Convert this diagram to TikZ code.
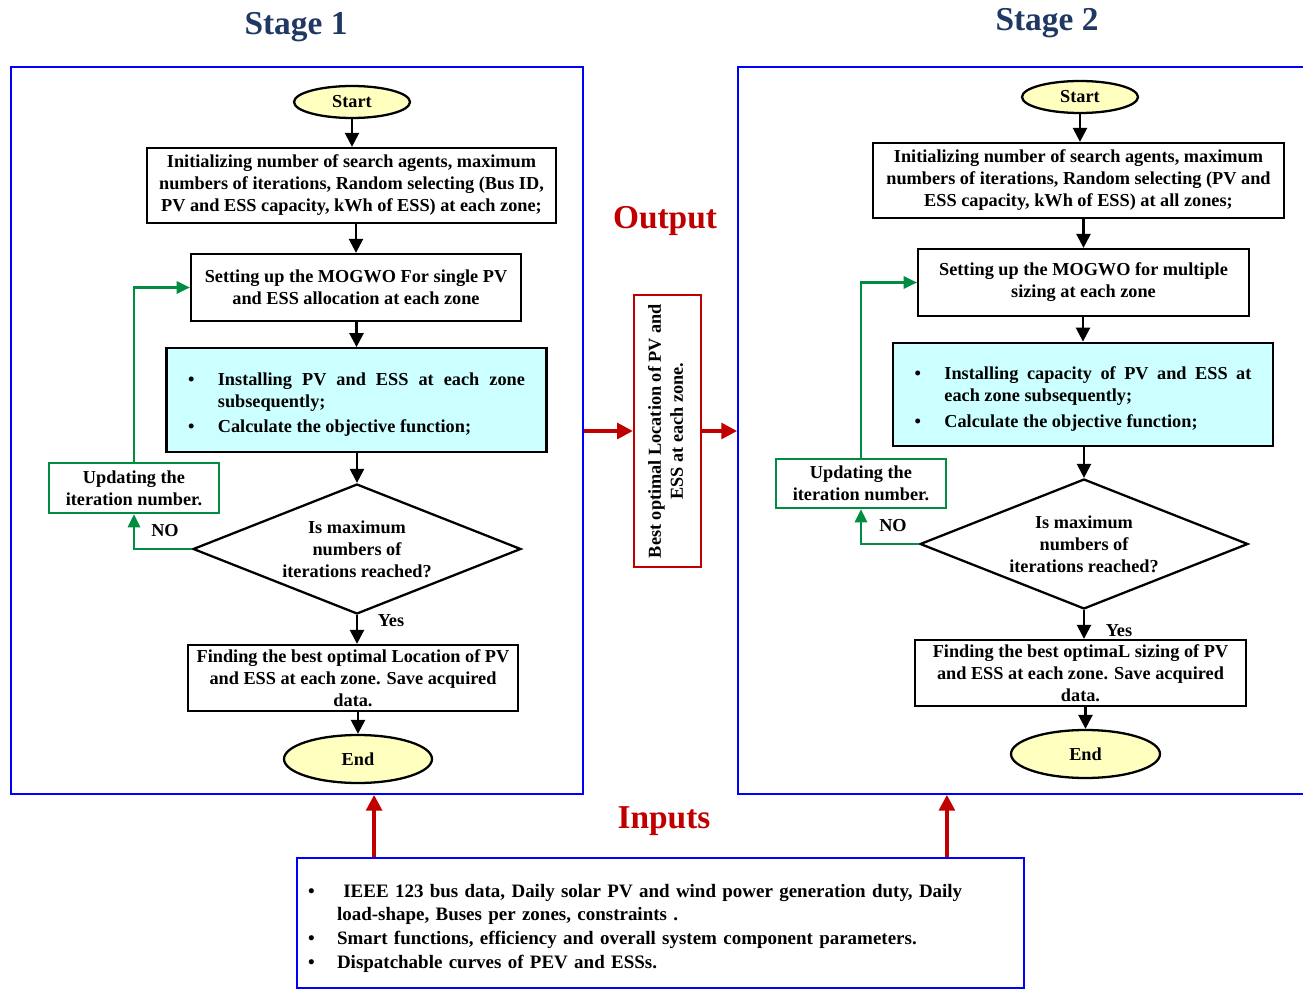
\documentclass[tikz,border=0pt]{standalone}
\usepackage{fontspec}
\setmainfont{Liberation Serif}
\usetikzlibrary{shapes.geometric,arrows.meta}
\definecolor{stageblue}{RGB}{31,56,100}
\definecolor{outred}{RGB}{192,0,0}
\definecolor{loopgreen}{RGB}{0,140,65}
\definecolor{framblue}{RGB}{0,0,255}
\definecolor{boxcyan}{RGB}{204,255,255}
\definecolor{termyellow}{RGB}{255,255,192}
\newcommand{\bitem}[2]{\par\noindent\hangindent=#1\hangafter=1\makebox[#1][l]{\textbullet}#2}
\tikzset{
  flowbox/.style={draw,line width=1.3pt,rectangle,align=center,inner sep=0pt},
  cyanbox/.style={flowbox,fill=boxcyan,minimum width=7.6cm,minimum height=2.07cm,text width=6.74cm,align=justify},
  termnode/.style={draw,line width=1.3pt,ellipse,fill=termyellow,inner sep=0pt},
  decision/.style={draw,line width=1.3pt,diamond,aspect=2.52,inner sep=0pt,align=center,minimum width=6.56cm,minimum height=2.6cm},
  loopbox/.style={draw=loopgreen,line width=1.3pt,rectangle,align=center,inner sep=0pt,minimum width=3.4cm,minimum height=1cm},
  frame/.style={draw=framblue,line width=1.1pt,rectangle,minimum width=11.44cm,minimum height=14.54cm},
  arr/.style={line width=1.4pt,-{Triangle[length=8pt,width=8pt]}},
  redarr/.style={draw=outred,line width=2pt,-{Triangle[length=9pt,width=9pt]}},
  greenarr/.style={draw=loopgreen,line width=1.3pt,-{Triangle[length=7.5pt,width=7pt]}},
  bigtitle/.style={font=\bfseries\fontsize{19}{22}\selectfont}
}
\begin{document}
\begin{tikzpicture}[x=0.02cm,y=-0.02cm,font=\bfseries\fontsize{10.4}{12.5}\selectfont]
\useasboundingbox (0,0) rectangle (1303,990);

\node[bigtitle,text=stageblue] (titleA) at (296,27) {Stage 1};
\node[bigtitle,text=stageblue] (titleB) at (1047,23) {Stage 2};
\node[bigtitle,text=outred] (outlabel) at (665,221) {Output};
\node[bigtitle,text=outred] (inlabel) at (664,821) {Inputs};

\node[frame] (frameA) at (297,430.5) {};
\node[frame] (frameB) at (1024,430.5) {};

\node[termnode,minimum width=2.32cm,minimum height=0.64cm] (startA) at (352,102) {Start};
\node[flowbox,minimum width=8.18cm,minimum height=1.5cm] (initA) at (351.5,185.5) {Initializing number of search agents, maximum\\numbers of iterations, Random selecting (Bus ID,\\PV and ESS capacity, kWh of ESS) at each zone;};
\node[flowbox,minimum width=6.6cm,minimum height=1.34cm] (setupA) at (356,287.5) {Setting up the MOGWO For single PV\\and ESS allocation at each zone};
\node[cyanbox] (instA) at (356.5,400) {\hyphenpenalty=10000\bitem{17pt}{Installing PV and ESS at each zone subsequently;}\par\vspace{2pt}\bitem{17pt}{Calculate the objective function;}};
\node[decision] (diaA) at (357,549) {Is maximum\\numbers of\\iterations reached?};
\node[flowbox,minimum width=6.6cm,minimum height=1.32cm] (findA) at (353,678) {Finding the best optimal Location of PV\\and ESS at each zone. Save acquired\\data.};
\node[termnode,minimum width=2.96cm,minimum height=0.96cm] (endA) at (358,759) {End};
\node[loopbox] (updA) at (134,488) {Updating the\\iteration number.};
\node (noA) at (165,531) {NO};
\node (yesA) at (391,621) {Yes};

\draw[arr] (startA) -- (startA |- initA.north);
\draw[arr] (initA.south -| setupA) -- (setupA.north);
\draw[arr] (setupA.south -| instA) -- (instA.north);
\draw[arr] (instA.south -| diaA) -- (diaA.north);
\draw[arr] (diaA.south) -- (diaA.south |- findA.north);
\draw[arr] (findA.south -| endA) -- (endA.north);
\draw[greenarr] (diaA.west) -| (updA.south);
\draw[greenarr] (updA.north) |- (setupA.west);

\node[termnode,minimum width=2.32cm,minimum height=0.64cm] (startB) at (1080,97) {Start};
\node[flowbox,minimum width=8.22cm,minimum height=1.5cm] (initB) at (1078.5,180.5) {Initializing number of search agents, maximum\\numbers of iterations, Random selecting (PV and\\ESS capacity, kWh of ESS) at all zones;};
\node[flowbox,minimum width=6.62cm,minimum height=1.34cm] (setupB) at (1083.5,282.5) {Setting up the MOGWO for multiple\\sizing at each zone};
\node[cyanbox] (instB) at (1083,394.5) {\hyphenpenalty=10000\bitem{17pt}{Installing capacity of PV and ESS at each zone subsequently;}\par\vspace{2pt}\bitem{17pt}{Calculate the objective function;}};
\node[decision] (diaB) at (1084,544) {Is maximum\\numbers of\\iterations reached?};
\node[flowbox,minimum width=6.62cm,minimum height=1.32cm] (findB) at (1080.5,673) {Finding the best optimaL sizing of PV\\and ESS at each zone. Save acquired\\data.};
\node[termnode,minimum width=2.98cm,minimum height=0.96cm] (endB) at (1085.5,754) {End};
\node[loopbox,minimum height=0.98cm] (updB) at (861,483.5) {Updating the\\iteration number.};
\node (noB) at (893,526) {NO};
\node (yesB) at (1119,631) {Yes};

\draw[arr] (startB) -- (startB |- initB.north);
\draw[arr] (initB.south -| setupB) -- (setupB.north);
\draw[arr] (setupB.south -| instB) -- (instB.north);
\draw[arr] (instB.south -| diaB) -- (diaB.north);
\draw[arr] (diaB.south) -- (diaB.south |- findB.north);
\draw[arr] (findB.south -| endB) -- (endB.north);
\draw[greenarr] (diaB.west) -| (updB.south);
\draw[greenarr] (updB.north) |- (setupB.west);

\node[draw=outred,line width=1.3pt,rectangle,inner sep=0pt,minimum width=1.34cm,minimum height=5.44cm] (outbox) at (667.5,431) {\rotatebox{90}{\begin{tabular}{@{}c@{}}Best optimal Location of PV and\\ESS at each zone.\end{tabular}}};
\draw[redarr] (frameA.east |- outbox.west) -- (outbox.west);
\draw[redarr] (outbox.east) -- (outbox.east -| frameB.west);

\node[draw=framblue,line width=1.1pt,rectangle,inner sep=0pt,minimum width=14.54cm,minimum height=2.6cm,text width=14.1cm,align=left,font=\bfseries\fontsize{10.8}{13.6}\selectfont] (inbox) at (660.5,923) {\hyphenpenalty=10000\bitem{16.5pt}{\ IEEE 123 bus data, Daily solar PV and wind power generation duty, Daily\newline load-shape, Buses per zones, constraints .}\bitem{16.5pt}{Smart functions, efficiency and overall system component parameters.}\bitem{16.5pt}{Dispatchable curves of PEV and ESSs.}};
\draw[redarr] ([xshift=1.56cm]inbox.north west) -- ([xshift=1.56cm]inbox.north west |- frameA.south);
\draw[redarr] ([xshift=-1.56cm]inbox.north east) -- ([xshift=-1.56cm]inbox.north east |- frameB.south);
\end{tikzpicture}
\end{document}
